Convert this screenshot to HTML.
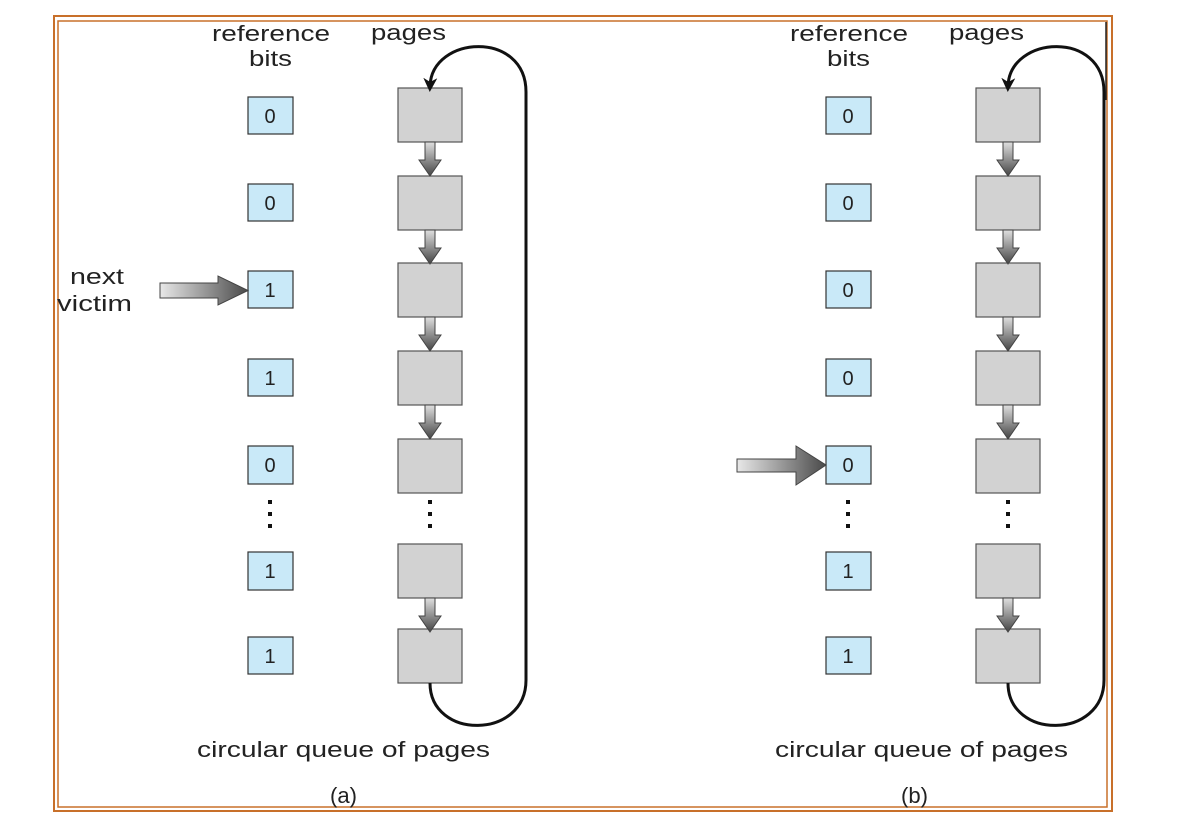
<!DOCTYPE html>
<html><head><meta charset="utf-8"><style>
html,body{margin:0;padding:0;background:#fff;width:1178px;height:828px;overflow:hidden}
svg text{font-family:"Liberation Sans",sans-serif;fill:#222}
</style></head><body>
<svg width="1178" height="828" viewBox="0 0 1178 828" xmlns="http://www.w3.org/2000/svg">
<defs>
<linearGradient id="gv" x1="0" y1="0" x2="0" y2="1"><stop offset="0" stop-color="#e0e0e0"/><stop offset="1" stop-color="#444"/></linearGradient>
<linearGradient id="gh" x1="0" y1="0" x2="1" y2="0"><stop offset="0" stop-color="#e8e8e8"/><stop offset="1" stop-color="#4a4a4a"/></linearGradient>
<marker id="ah" markerWidth="14" markerHeight="14" refX="8" refY="7" orient="auto" markerUnits="userSpaceOnUse"><path d="M0,0 L14,7 L0,14 L4,7 Z" fill="#111"/></marker>
<g id="pagearrow"><path d="M-5,0 L5,0 L5,18 L11,18 L0,34 L-11,18 L-5,18 Z" fill="url(#gv)" stroke="#444" stroke-width="1"/></g>
<g id="panel">
<text x="212" y="41" font-size="22" textLength="118" lengthAdjust="spacingAndGlyphs">reference</text>
<text x="249" y="66" font-size="22" textLength="43" lengthAdjust="spacingAndGlyphs">bits</text>
<text x="371" y="40" font-size="22" textLength="75" lengthAdjust="spacingAndGlyphs">pages</text>
<g fill="#c9e9f8" stroke="#333" stroke-width="1.2">
<rect x="248" y="97" width="45" height="37"/><rect x="248" y="184" width="45" height="37"/>
<rect x="248" y="271" width="45" height="37"/><rect x="248" y="359" width="45" height="37"/>
<rect x="248" y="446" width="45" height="38"/><rect x="248" y="552" width="45" height="38"/>
<rect x="248" y="637" width="45" height="37"/>
</g>
<g fill="#d2d2d2" stroke="#555" stroke-width="1.2">
<rect x="398" y="88" width="64" height="54"/><rect x="398" y="176" width="64" height="54"/>
<rect x="398" y="263" width="64" height="54"/><rect x="398" y="351" width="64" height="54"/>
<rect x="398" y="439" width="64" height="54"/><rect x="398" y="544" width="64" height="54"/>
<rect x="398" y="629" width="64" height="54"/>
</g>
<use href="#pagearrow" x="430" y="142"/><use href="#pagearrow" x="430" y="230"/>
<use href="#pagearrow" x="430" y="317"/><use href="#pagearrow" x="430" y="405"/>
<use href="#pagearrow" x="430" y="598"/>
<g fill="#111"><rect x="268" y="500" width="4" height="4"/><rect x="268" y="512" width="4" height="4"/><rect x="268" y="524" width="4" height="4"/>
<rect x="428" y="500" width="4" height="4"/><rect x="428" y="512" width="4" height="4"/><rect x="428" y="524" width="4" height="4"/></g>
<path d="M430,683 C430,740 526,740 526,680 L526,92 C526,30 432,35 430,86" fill="none" stroke="#111" stroke-width="3" marker-end="url(#ah)"/>
<text x="197" y="757" font-size="22" textLength="293" lengthAdjust="spacingAndGlyphs">circular queue of pages</text>
</g>
</defs>
<rect x="54" y="16" width="1058" height="795" fill="none" stroke="#c8702a" stroke-width="2"/>
<rect x="58" y="21" width="1049" height="786" fill="none" stroke="#c8702a" stroke-width="1.5"/>
<use href="#panel"/>
<g font-size="20" text-anchor="middle">
<text x="270" y="123">0</text>
<text x="270" y="210">0</text>
<text x="270" y="297">1</text>
<text x="270" y="385">1</text>
<text x="270" y="472">0</text>
<text x="270" y="578">1</text>
<text x="270" y="663">1</text>
</g>
<text x="70" y="284" font-size="22" textLength="54" lengthAdjust="spacingAndGlyphs">next</text>
<text x="57" y="311" font-size="22" textLength="75" lengthAdjust="spacingAndGlyphs">victim</text>
<path d="M160,283 L218,283 L218,276 L248,290.5 L218,305 L218,298 L160,298 Z" fill="url(#gh)" stroke="#444" stroke-width="1"/>
<text x="330" y="803" font-size="22" textLength="27" lengthAdjust="spacingAndGlyphs">(a)</text>
<g transform="translate(578,0)"><use href="#panel"/>
<g font-size="20" text-anchor="middle">
<text x="270" y="123">0</text>
<text x="270" y="210">0</text>
<text x="270" y="297">0</text>
<text x="270" y="385">0</text>
<text x="270" y="472">0</text>
<text x="270" y="578">1</text>
<text x="270" y="663">1</text>
</g>
<path d="M159,459 L218,459 L218,446 L248,465 L218,485 L218,472 L159,472 Z" fill="url(#gh)" stroke="#444" stroke-width="1"/>
<text x="323" y="803" font-size="22" textLength="27" lengthAdjust="spacingAndGlyphs">(b)</text>
</g>
<line x1="1106" y1="22" x2="1106" y2="100" stroke="#222" stroke-width="1.5"/>
</svg>
</body></html>
